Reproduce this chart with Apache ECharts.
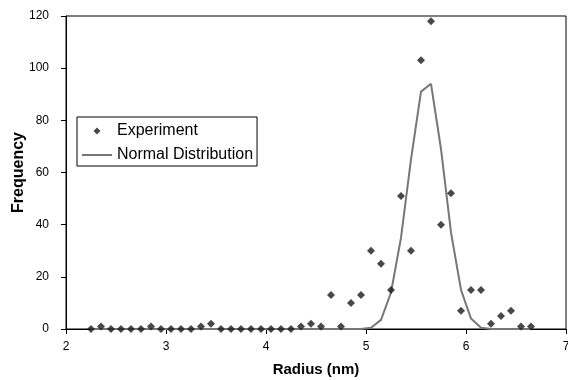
<!DOCTYPE html>
<html>
<head>
<meta charset="utf-8">
<script src="https://cdn.jsdelivr.net/npm/echarts@6/dist/echarts.min.js"></script>
<style>html,body{margin:0;padding:0;background:#fff}#c{width:568px;height:380px}</style>
</head>
<body>
<div id="c"></div>
<script>
// Radius values (nm) shared by both series
const radius = [2.25,2.35,2.45,2.55,2.65,2.75,2.85,2.95,3.05,3.15,3.25,3.35,3.45,3.55,3.65,3.75,3.85,3.95,4.05,4.15,4.25,4.35,4.45,4.55,4.65,4.75,4.85,4.95,5.05,5.15,5.25,5.35,5.45,5.55,5.65,5.75,5.85,5.95,6.05,6.15,6.25,6.35,6.45,6.55,6.65];
const experiment = [0,1,0,0,0,0,1,0,0,0,0,1,2,0,0,0,0,0,0,0,0,1,2,1,13,1,10,13,30,25,15,51,30,103,118,40,52,7,15,15,2,5,7,1,1];
const normalDist = [0,0,0,0,0,0,0,0,0,0,0,0,0,0,0,0,0,0,0,0,0,0,0,0,0,0,0,0,0.5,3.5,14,35,65,91,94,69,37,15,4,0.5,0,0,0,0,0];
const xTicks = {min:2, max:7, interval:1};
const yTicks = {min:0, max:120, interval:20};
const seriesNames = ['Experiment','Normal Distribution'];
const xTitle = 'Radius (nm)';
const yTitle = 'Frequency';

const chart = echarts.init(document.getElementById('c'), null, {renderer:'canvas'});
const font = 'Liberation Sans, Arial, sans-serif';
chart.setOption({
  animation:false,
  backgroundColor:'#fff',
  textStyle:{fontFamily:font},
  grid:{left:66, right:2, top:16, bottom:51, show:true, borderColor:'#000', borderWidth:1,
        containLabel:false, outerBoundsMode:'none'},
  legend:{
    orient:'vertical', left:77, top:117,
    data:[
      {name:seriesNames[0], icon:'path://M5,0L10,5L5,10L0,5Z'},
      {name:seriesNames[1], icon:'path://M0,0h30v2h-30z'}
    ],
    symbolKeepAspect:true,
    backgroundColor:'#fff', borderColor:'#000', borderWidth:1,
    padding:[6,4,3,5], itemGap:8, itemWidth:30, itemHeight:7,
    textStyle:{fontFamily:font, fontSize:16, color:'#000', lineHeight:16}
  },
  xAxis:{
    type:'value', min:xTicks.min, max:xTicks.max, interval:xTicks.interval,
    name:xTitle, nameLocation:'middle', nameGap:33, nameMoveOverlap:false,
    nameTextStyle:{fontFamily:font, fontSize:15, fontWeight:'bold', color:'#000'},
    axisLine:{show:true, lineStyle:{color:'#000', width:1}},
    axisTick:{show:true, length:5, inside:false, lineStyle:{color:'#000'}},
    axisLabel:{fontFamily:font, fontSize:12, color:'#000', margin:12},
    splitLine:{show:false}
  },
  yAxis:{
    type:'value', min:yTicks.min, max:yTicks.max, interval:yTicks.interval,
    name:yTitle, nameLocation:'middle', nameGap:39, nameRotate:90, nameMoveOverlap:false,
    nameTextStyle:{fontFamily:font, fontSize:16, fontWeight:'bold', color:'#000'},
    axisLine:{show:true, lineStyle:{color:'#000', width:1}},
    axisTick:{show:true, length:5, inside:false, lineStyle:{color:'#000'}},
    axisLabel:{fontFamily:font, fontSize:12, color:'#000', margin:17},
    splitLine:{show:false}
  },
  series:[
    {
      name:seriesNames[1], type:'line', z:2,
      data:radius.map((r,i)=>[r, normalDist[i]]),
      symbol:'none', smooth:false,
      lineStyle:{color:'#777', width:2},
      itemStyle:{color:'#777'}
    },
    {
      name:seriesNames[0], type:'scatter', z:3,
      data:radius.map((r,i)=>[r, experiment[i]]),
      symbol:'diamond', symbolSize:8,
      itemStyle:{color:'#1a1a1a'}
    }
  ]
});
</script>
</body>
</html>
